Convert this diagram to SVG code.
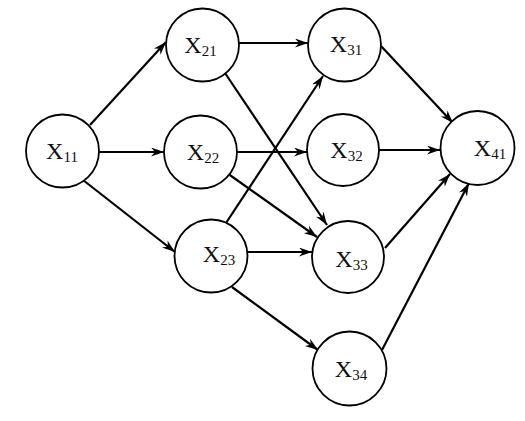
<svg xmlns="http://www.w3.org/2000/svg" width="525" height="421" viewBox="0 0 525 421">
<style>
.n{fill:#fff;stroke:#000;stroke-width:1.8}
.t{font-family:"Liberation Serif","Times New Roman",serif;font-size:24px;fill:#111;text-anchor:middle}
.s{font-size:15px}
.e line{stroke:#000;stroke-width:2.2;marker-end:url(#a)}
</style>
<defs>
<marker id="a" markerUnits="userSpaceOnUse" markerWidth="14" markerHeight="10" refX="13" refY="4.5" orient="auto">
<path d="M0,0 L13,4.5 L0,9 L4,4.5 z" fill="#000"/>
</marker>
</defs>
<rect width="525" height="421" fill="#fff"/>
<g id="edges" class="e">
<line x1="90" y1="125" x2="166" y2="42"/>
<line x1="99" y1="152" x2="164" y2="152"/>
<line x1="83" y1="180" x2="175" y2="252"/>
<line x1="239" y1="43" x2="308" y2="43"/>
<line x1="225" y1="73" x2="327" y2="225"/>
<line x1="237" y1="152" x2="307" y2="152"/>
<line x1="227" y1="173" x2="317" y2="237"/>
<line x1="226" y1="223" x2="323" y2="76"/>
<line x1="247" y1="252" x2="312" y2="252"/>
<line x1="232" y1="287" x2="318" y2="350"/>
<line x1="381" y1="46" x2="453" y2="123"/>
<line x1="379" y1="150" x2="440" y2="150"/>
<line x1="385" y1="248" x2="450" y2="174"/>
<line x1="382" y1="350" x2="469" y2="183"/>
</g>
<g id="X11"><circle class="n" cx="62.5" cy="151" r="36.5"/><text class="t" x="62" y="159">X<tspan class="s" dy="3">11</tspan></text></g>
<g id="X21"><circle class="n" cx="202.5" cy="45" r="36.5"/><text class="t" x="200.5" y="53">X<tspan class="s" dy="3">21</tspan></text></g>
<g id="X22"><circle class="n" cx="200.5" cy="152" r="36.5"/><text class="t" x="203" y="160">X<tspan class="s" dy="3">22</tspan></text></g>
<g id="X23"><circle class="n" cx="211" cy="256" r="36.5"/><text class="t" x="219" y="262">X<tspan class="s" dy="3">23</tspan></text></g>
<g id="X31"><circle class="n" cx="344.5" cy="45" r="36.5"/><text class="t" x="346" y="52">X<tspan class="s" dy="3">31</tspan></text></g>
<g id="X32"><circle class="n" cx="343" cy="150" r="36"/><text class="t" x="346.5" y="158">X<tspan class="s" dy="3">32</tspan></text></g>
<g id="X33"><circle class="n" cx="348" cy="257" r="36"/><text class="t" x="351.5" y="267">X<tspan class="s" dy="3">33</tspan></text></g>
<g id="X34"><circle class="n" cx="349.5" cy="368.5" r="37"/><text class="t" x="351" y="377">X<tspan class="s" dy="3">34</tspan></text></g>
<g id="X41"><circle class="n" cx="477.5" cy="148" r="37"/><text class="t" x="490" y="156">X<tspan class="s" dy="3">41</tspan></text></g>
</svg>
